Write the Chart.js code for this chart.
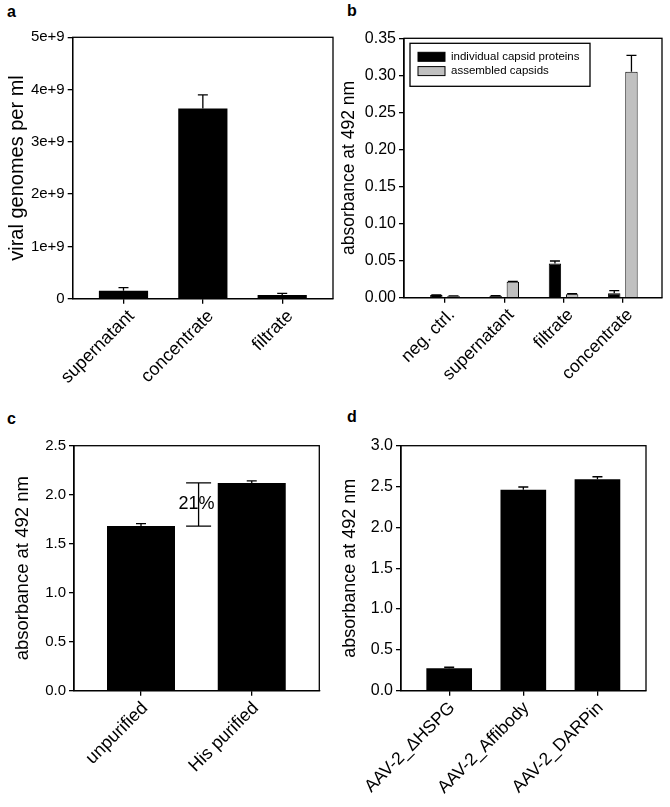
<!DOCTYPE html>
<html lang="en">
  <head>
    <meta charset="UTF-8" />
    <title>AAV capsid panels</title>
    <script src="https://cdn.jsdelivr.net/npm/chart.js"></script>
    <style>
      body { margin: 0; background: #fff; }
      #fig { position: relative; width: 670px; height: 807px; }
      canvas { position: absolute; }
      .tag { position: absolute; font: bold 16px 'Liberation Sans', Arial, sans-serif; }
    </style>
  </head>
  <body>
    <div id="fig">
      <div class="tag" style="left:7px;top:3px">a</div>
      <div class="tag" style="left:347px;top:2px">b</div>
      <div class="tag" style="left:7px;top:410px">c</div>
      <div class="tag" style="left:347px;top:408px">d</div>
      <canvas id="chartA" width="335" height="400" style="left:0;top:0"></canvas>
      <canvas id="chartB" width="335" height="400" style="left:335px;top:0"></canvas>
      <canvas id="chartC" width="335" height="407" style="left:0;top:400px"></canvas>
      <canvas id="chartD" width="335" height="407" style="left:335px;top:400px"></canvas>
    </div>

    <script>
      // panel a - qPCR
      const catsA = ['supernatant', 'concentrate', 'filtrate']
      const genomesA = [0.15e9, 3.64e9, 0.07e9]
      const genomesErrA = [0.06e9, 0.26e9, 0.03e9]
      const ticksA = [0, 1e9, 2e9, 3e9, 4e9, 5e9]

      // panel b - ELISA
      const catsB = ['neg. ctrl.', 'supernatant', 'filtrate', 'concentrate']
      const proteinsB = [0.0035, 0.0025, 0.046, 0.006]
      const proteinsErrB = [0.0004, 0.0004, 0.0035, 0.0035]
      const capsidsB = [0.0022, 0.0216, 0.0045, 0.305]
      const capsidsErrB = [0.0003, 0.0003, 0.0008, 0.022]

      // panel c - purification
      const catsC = ['unpurified', 'His purified']
      const absC = [1.68, 2.12]
      const absErrC = [0.025, 0.022]
      const gainC = '21%'

      // panel d - variants
      const catsD = ['AAV-2_\u0394HSPG', 'AAV-2_Affibody', 'AAV-2_DARPin']
      const absD = [0.275, 2.46, 2.59]
      const absErrD = [0.012, 0.034, 0.03]

      const FONT = "'Liberation Sans', Arial, sans-serif"
      Chart.defaults.font.family = FONT
      Chart.defaults.color = '#000'
      Chart.defaults.animation = false

      // error bars (upper only) + frame round the plot area
      const errorBars = {
        id: 'errorBars',
        afterDatasetsDraw(chart, args, opts) {
          const { ctx, chartArea } = chart
          const y = chart.scales.y
          ctx.save()
          ctx.strokeStyle = '#000'
          ctx.lineWidth = 1.3
          ;(opts.errs || []).forEach((errs, di) => {
            const meta = chart.getDatasetMeta(di)
            meta.data.forEach((bar, i) => {
              const v = chart.data.datasets[di].data[i].y
              const top = y.getPixelForValue(v + errs[i])
              ctx.beginPath()
              ctx.moveTo(bar.x, bar.y)
              ctx.lineTo(bar.x, top)
              ctx.moveTo(bar.x - 5, top)
              ctx.lineTo(bar.x + 5, top)
              ctx.stroke()
            })
          })
          ctx.strokeRect(chartArea.left, chartArea.top,
            chartArea.right - chartArea.left, chartArea.bottom - chartArea.top)
          ctx.restore()
        },
      }

      // bracket with percentage label (panel c)
      const bracket = {
        id: 'bracket',
        afterDatasetsDraw(chart, args, opts) {
          if (!opts.label) return
          const { ctx } = chart
          const x = chart.scales.x.getPixelForValue(opts.x)
          const y0 = chart.scales.y.getPixelForValue(opts.from)
          const y1 = chart.scales.y.getPixelForValue(opts.to)
          ctx.save()
          ctx.strokeStyle = '#000'
          ctx.lineWidth = 1.3
          ctx.beginPath()
          ctx.moveTo(x, y0); ctx.lineTo(x, y1)
          ctx.moveTo(x - 12.5, y0); ctx.lineTo(x + 12.5, y0)
          ctx.moveTo(x - 12.5, y1); ctx.lineTo(x + 12.5, y1)
          ctx.stroke()
          ctx.font = '18px ' + FONT
          ctx.textAlign = 'center'
          ctx.textBaseline = 'middle'
          ctx.fillStyle = '#000'
          ctx.fillText(opts.label, x - 2, (y0 + y1) / 2)
          ctx.restore()
        },
      }

      // framed legend inside the plot (panel b)
      const boxLegend = {
        id: 'boxLegend',
        afterDraw(chart, args, opts) {
          if (!opts.show) return
          const { ctx, chartArea } = chart
          const left = chartArea.left + 6, top = chartArea.top + 5
          ctx.save()
          ctx.strokeStyle = '#000'
          ctx.lineWidth = 1.3
          ctx.strokeRect(left, top, 180, 43)
          ctx.font = '11.5px ' + FONT
          ctx.textBaseline = 'middle'
          chart.data.datasets.forEach((ds, i) => {
            const cy = top + 13.5 + i * 14.3
            ctx.fillStyle = ds.backgroundColor
            ctx.fillRect(left + 8, cy - 4.5, 27, 9)
            ctx.lineWidth = 1
            ctx.strokeRect(left + 8, cy - 4.5, 27, 9)
            ctx.fillStyle = '#000'
            ctx.fillText(ds.label, left + 41, cy)
          })
          ctx.restore()
        },
      }

      function panel(id, cfg) {
        const canvas = document.getElementById(id)
        const W = canvas.width, H = canvas.height
        const [L, T, R, B] = cfg.area
        return new Chart(canvas, {
          type: 'bar',
          data: { datasets: cfg.datasets },
          plugins: [errorBars, bracket, boxLegend],
          options: {
            responsive: false,
            layout: { padding: { left: 0, top: T, right: W - R, bottom: 0 } },
            categoryPercentage: cfg.catPct,
            barPercentage: cfg.barPct,
            plugins: {
              legend: { display: false },
              tooltip: { enabled: false },
              errorBars: { errs: cfg.errs },
              bracket: cfg.bracket || {},
              boxLegend: { show: !!cfg.legend },
            },
            scales: {
              x: {
                type: 'linear',
                offset: false,
                min: cfg.xRange[0],
                max: cfg.xRange[1],
                afterBuildTicks: (s) => {
                  s.ticks = cfg.cats.map((c, i) => ({ value: i + 1 }))
                },
                afterFit: (s) => { s.height = H - B },
                ticks: {
                  autoSkip: false,
                  minRotation: 45,
                  maxRotation: 45,
                  padding: 2,
                  labelOffset: cfg.xShift,
                  font: { size: cfg.xFont },
                  callback: (v) => cfg.cats[v - 1],
                },
                grid: {
                  offset: false,
                  drawOnChartArea: false,
                  tickLength: 5,
                  color: '#000',
                  lineWidth: 1.3,
                },
                border: { color: '#000', width: 1.3 },
              },
              y: {
                min: cfg.yTicks[0],
                max: cfg.yTicks[cfg.yTicks.length - 1],
                afterBuildTicks: (s) => {
                  s.ticks = cfg.yTicks.map((v) => ({ value: v }))
                },
                afterFit: (s) => { s.width = L },
                ticks: {
                  padding: 3,
                  font: { size: cfg.yFont },
                  callback: cfg.yFmt,
                },
                grid: {
                  drawOnChartArea: false,
                  tickLength: 5,
                  color: '#000',
                  lineWidth: 1.3,
                },
                border: { color: '#000', width: 1.3 },
                title: {
                  display: true,
                  text: cfg.yTitle,
                  font: { size: cfg.titleFont },
                  padding: { top: cfg.titlePad, bottom: 0 },
                },
              },
            },
          },
        })
      }

      const pts = (vals) => vals.map((v, i) => ({ x: i + 1, y: v }))
      const step = (a, b, d) => {
        const out = []
        for (let v = a; v <= b + 1e-9; v += d) out.push(+v.toFixed(4))
        return out
      }

      panel('chartA', {
        area: [72.7, 37.3, 333, 298.7],
        cats: catsA,
        xRange: [0.36, 3.64],
        catPct: 1,
        barPct: 0.62,
        datasets: [{ data: pts(genomesA), backgroundColor: '#000' }],
        errs: [genomesErrA],
        yTicks: ticksA,
        yFmt: (v) => (v === 0 ? '0' : v / 1e9 + 'e+9'),
        yTitle: 'viral genomes per ml',
        yFont: 15, xFont: 18, xShift: 8, titleFont: 20, titlePad: 5,
      })

      panel('chartB', {
        area: [69, 38.3, 327, 297.7],
        cats: catsB,
        xRange: [0.31, 4.66],
        catPct: 0.58,
        barPct: 0.72,
        datasets: [
          { label: 'individual capsid proteins', data: pts(proteinsB),
            backgroundColor: '#000', borderColor: '#000', borderWidth: 1 },
          { label: 'assembled capsids', data: pts(capsidsB),
            backgroundColor: '#c0c0c0', borderColor: '#000', borderWidth: 1 },
        ],
        errs: [proteinsErrB, capsidsErrB],
        legend: true,
        yTicks: step(0, 0.35, 0.05),
        yFmt: (v) => v.toFixed(2),
        yTitle: 'absorbance at 492 nm',
        yFont: 16, xFont: 17.5, xShift: 7, titleFont: 17.5, titlePad: 4,
      })

      panel('chartC', {
        area: [74, 45.7, 319.3, 290.7],
        cats: catsC,
        xRange: [0.395, 2.61],
        catPct: 1,
        barPct: 0.614,
        datasets: [{ data: pts(absC), backgroundColor: '#000' }],
        errs: [absErrC],
        bracket: { x: 1.52, from: absC[0], to: absC[1], label: gainC },
        yTicks: step(0, 2.5, 0.5),
        yFmt: (v) => v.toFixed(1),
        yTitle: 'absorbance at 492 nm',
        yFont: 15, xFont: 18, xShift: 4, titleFont: 18.5, titlePad: 12,
      })

      panel('chartD', {
        area: [66, 45.7, 311, 290.7],
        cats: catsD,
        xRange: [0.35, 3.655],
        catPct: 1,
        barPct: 0.616,
        datasets: [{ data: pts(absD), backgroundColor: '#000' }],
        errs: [absErrD],
        yTicks: step(0, 3, 0.5),
        yFmt: (v) => v.toFixed(1),
        yTitle: 'absorbance at 492 nm',
        yFont: 16, xFont: 17.5, xShift: 3, titleFont: 18, titlePad: 4,
      })
    </script>
  </body>
</html>
